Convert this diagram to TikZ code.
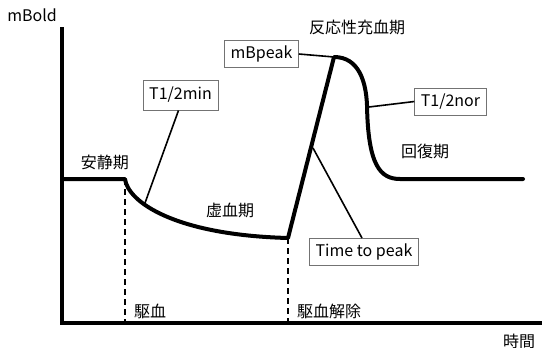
\documentclass[tikz,border=0pt]{standalone}
\usepackage{fontspec}
\setmainfont{Noto Sans CJK JP}
\begin{document}
\begin{tikzpicture}[x=1pt,y=-1pt,
  every node/.style={font=\fontsize{16}{18}\selectfont, inner sep=0pt},
  tag/.style={draw=black!55, line width=0.9pt, fill=white, minimum height=27pt, inner xsep=6pt},
  axis/.style={line width=4pt},
  curve/.style={line width=4pt, line join=round, line cap=round},
  lead/.style={line width=1.6pt},
  guide/.style={line width=1.5pt, dash pattern=on 6pt off 4pt}]
\useasboundingbox (0,0) rectangle (542,348);
% axes
\coordinate (ytop) at (62,27);
\coordinate (orig) at (62,323);
\coordinate (xend) at (542,323);
\draw[axis] (ytop) -- (orig) -- (xend);
% curve points
\coordinate (base0) at (62,179);
\coordinate (cuff) at (125,179);
\coordinate (low) at (288,238);
\coordinate (peak) at (334,57);
\coordinate (mid) at (367,105);
\coordinate (rec) at (400,179);
\coordinate (recend) at (523,179);
\coordinate (cuffb) at (125,323);
\coordinate (lowb) at (288,323);
% dashed guides
\draw[guide] (cuff) -- (cuffb);
\draw[guide] (low) -- (lowb);
% main curve
\draw[curve] (base0) -- (cuff) .. controls (128,202) and (175,235) .. (low)
  -- (peak) .. controls (359,57) and (366,82) .. (mid)
  .. controls (368,165) and (380,179) .. (rec) -- (recend);
% points on curve for leaders
\coordinate (pmin) at (145,203);
\coordinate (pnor) at (369,107);
\coordinate (pttp) at (313,148);
% labels
\node (ylab) at (32,15) {mBold};
\node (xlab) at (519,341) {時間};
\node (rest) at (105,162) {安静期};
\node (isch) at (230,210) {虚血期};
\node (hyper) at (357,27) {反応性充血期};
\node (recov) at (425,151) {回復期};
\node (occl) at (150,311) {駆血};
\node (release) at (329,311) {駆血解除};
% boxes
\node[tag, minimum width=75pt, minimum height=30pt] (tmin) at (180.5,95) {T1/2min};
\node[tag, minimum width=71pt] (mbp) at (261.5,54) {mBpeak};
\node[tag, minimum width=69pt] (tnor) at (450.5,101.5) {T1/2nor};
\node[tag, minimum width=104pt] (ttp) at (364,252) {Time to peak};
% leaders
\draw[lead] (tmin.south) ++(-2,0) coordinate (tmins) -- (pmin);
\draw[lead] (mbp.east) -- (peak);
\draw[lead] (tnor.west) -- (pnor);
\draw[lead] (ttp.north) ++(-2,0) coordinate (ttpn) -- (pttp);
\end{tikzpicture}
\end{document}
